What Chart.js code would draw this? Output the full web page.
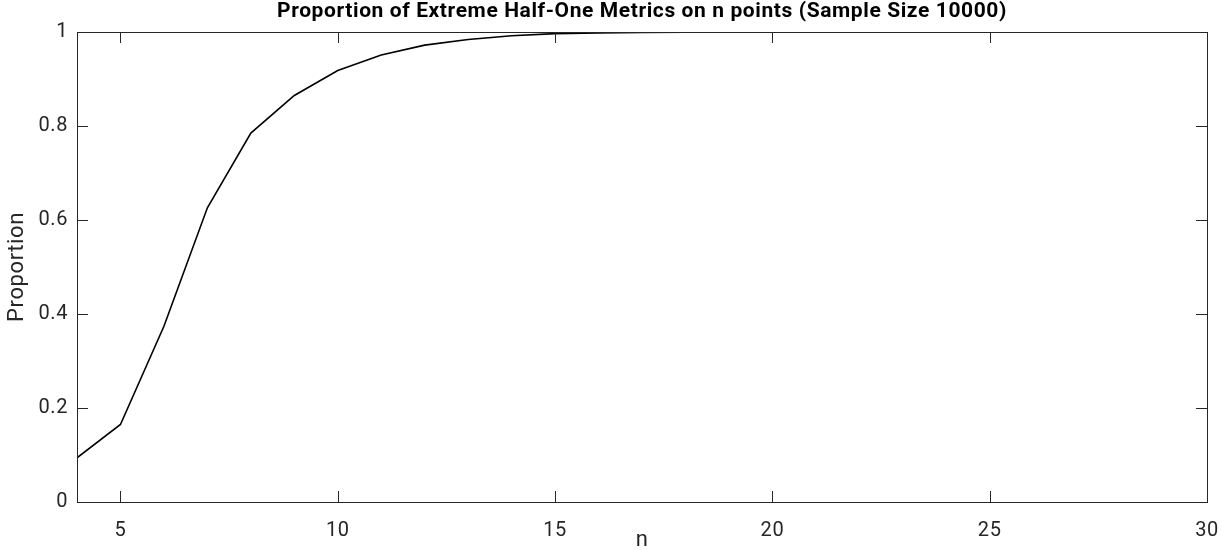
<!DOCTYPE html>
<html>
<head>
<meta charset="utf-8">
<script src="https://cdn.jsdelivr.net/npm/chart.js@4/dist/chart.umd.min.js"></script>
<style>
  html, body { margin: 0; padding: 0; background: #fff; }
  #wrap { width: 1221px; height: 550px; }
</style>
</head>
<body>
<div id="wrap"><canvas id="myChart" width="1221" height="550"></canvas></div>
<script>
const nValues = [4, 5, 6, 7, 8, 9, 10, 11, 12, 13, 14, 15, 16, 17, 18, 19, 20, 21, 22, 23, 24, 25, 26, 27, 28, 29, 30];
const proportion = [0.094, 0.165, 0.374, 0.626, 0.785, 0.865, 0.918, 0.951, 0.972, 0.984, 0.992, 0.9965, 0.998, 0.9991, 0.9996, 0.9998, 1, 1, 1, 1, 1, 1, 1, 1, 1, 1, 1];
const xTicks = [5, 10, 15, 20, 25, 30];
const yTicks = [0, 0.2, 0.4, 0.6, 0.8, 1];

const axisColor = '#262626';
const fontFamily = 'Roboto, "Noto Sans", sans-serif';

// the reference text is a bit more spaced out than plain canvas text
const spacingPlugin = {
    id: 'spacing',
    beforeUpdate(chart) { chart.ctx.letterSpacing = '0.6px'; },
    beforeDraw(chart) { chart.ctx.letterSpacing = '0.6px'; }
};

// matlab style box with inward tick marks
const boxPlugin = {
    id: 'boxTicks',
    afterDraw(chart) {
        const ctx = chart.ctx;
        const a = chart.chartArea;
        const xs = chart.scales.x;
        const ys = chart.scales.y;
        const len = 11;
        ctx.save();
        ctx.strokeStyle = axisColor;
        ctx.lineWidth = 1;
        ctx.strokeRect(Math.round(a.left) + 0.5, Math.round(a.top) + 0.5,
            Math.round(a.right - a.left), Math.round(a.bottom - a.top));
        ctx.beginPath();
        xTicks.forEach(v => {
            const px = Math.round(xs.getPixelForValue(v)) + 0.5;
            ctx.moveTo(px, a.bottom); ctx.lineTo(px, a.bottom - len);
            ctx.moveTo(px, a.top); ctx.lineTo(px, a.top + len);
        });
        yTicks.forEach(v => {
            const py = Math.round(ys.getPixelForValue(v)) + 0.5;
            ctx.moveTo(a.left, py); ctx.lineTo(a.left + len, py);
            ctx.moveTo(a.right, py); ctx.lineTo(a.right - len, py);
        });
        ctx.stroke();
        ctx.restore();
    }
};

const canvas = document.getElementById('myChart').getContext('2d');
new Chart(canvas, {
    type: 'line',
    data: {
        datasets: [{
            data: nValues.map((n, i) => ({ x: n, y: proportion[i] })),
            borderColor: '#000',
            borderWidth: 1.6,
            pointRadius: 0,
            tension: 0,
            fill: false
        }]
    },
    options: {
        responsive: false,
        animation: false,
        devicePixelRatio: 1,
        layout: { padding: { left: 0, right: 14, top: 0, bottom: 0 } },
        plugins: {
            legend: { display: false },
            tooltip: { enabled: false },
            title: {
                display: true,
                fullSize: false,
                text: 'Proportion of Extreme Half-One Metrics on n points (Sample Size 10000)',
                color: '#000',
                font: { family: fontFamily, size: 21, weight: 'bold', lineHeight: 1.0 },
                padding: { top: 1, bottom: 10 }
            }
        },
        scales: {
            x: {
                type: 'linear',
                min: 4,
                max: 30,
                afterBuildTicks: s => { s.ticks = xTicks.map(v => ({ value: v })); },
                afterFit: s => { s.height = 48; s.paddingLeft = 0; s.paddingRight = 0; },
                grid: { display: false, drawTicks: false },
                border: { display: false },
                ticks: {
                    color: axisColor,
                    padding: 17,
                    maxRotation: 0,
                    font: { family: fontFamily, size: 20 }
                },
                title: {
                    display: true,
                    text: 'n',
                    color: axisColor,
                    padding: { top: 0, bottom: 0 },
                    font: { family: fontFamily, size: 22, lineHeight: 0.9 }
                }
            },
            y: {
                min: 0,
                max: 1,
                afterBuildTicks: s => { s.ticks = yTicks.map(v => ({ value: v })); },
                afterFit: s => { s.width = 77; },
                grid: { display: false, drawTicks: false },
                border: { display: false },
                ticks: {
                    color: axisColor,
                    padding: 9,
                    font: { family: fontFamily, size: 20 },
                    callback: v => String(v)
                },
                title: {
                    display: true,
                    text: 'Proportion',
                    color: axisColor,
                    padding: { top: 4, bottom: 0 },
                    font: { family: fontFamily, size: 22 }
                }
            }
        }
    },
    plugins: [spacingPlugin, boxPlugin]
});
</script>
</body>
</html>
